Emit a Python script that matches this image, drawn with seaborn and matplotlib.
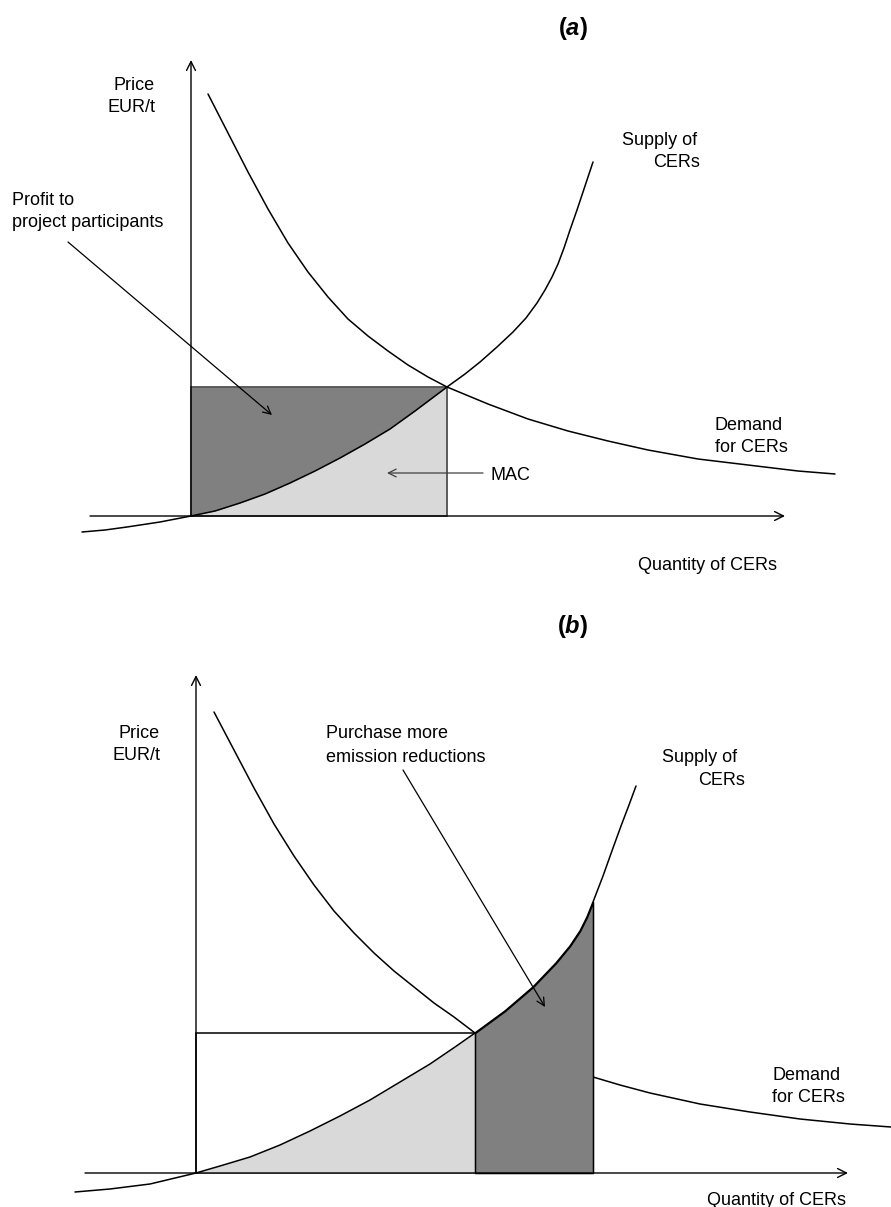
import numpy as np
import pandas as pd
import matplotlib
matplotlib.use("Agg")
import matplotlib.pyplot as plt
import seaborn as sns
from matplotlib.patches import Rectangle

# ---------------- data (quantity / price measured from each panel's origin) ----------------
# Panel (a)
demand_a_q = [17, 37, 57, 77, 97, 117, 137, 157, 177, 197, 217, 237, 256, 297, 337, 377, 417, 457, 507, 557, 607, 644]
demand_a_p = [422, 383, 344, 307, 273, 244, 219, 197, 180, 165, 151, 139, 129, 112, 97, 85, 75, 66, 57, 51, 45, 42]
supply_a_q = [-109, -86, -64, -31, 0, 24, 49, 74, 99, 124, 149, 174, 199, 224, 256, 274, 289, 306, 322, 335, 346, 354, 361, 367, 373, 379, 386, 394, 402]
supply_a_p = [-16, -14, -11, -6, 0, 5, 13, 22, 33, 45, 58, 72, 87, 105, 129, 142, 154, 169, 184, 198, 213, 226, 239, 252, 268, 286, 306, 330, 354]
eq_a_q, eq_a_p = 256, 129

# Panel (b)
demand_b_q = [18, 38, 58, 78, 98, 118, 138, 158, 178, 198, 218, 238, 258, 279, 309, 339, 369, 397, 424, 454, 504, 554, 604, 654, 695]
demand_b_p = [461, 423, 385, 349, 317, 288, 262, 240, 220, 202, 186, 170, 156, 140, 125, 114, 104, 96, 88, 80, 69, 61, 54, 49, 46]
supply_b_q = [-121, -86, -46, 0, 24, 54, 84, 114, 144, 174, 204, 234, 259, 279, 309, 337, 360, 374, 384, 391, 397, 407, 417, 425, 433, 440]
supply_b_p = [-19, -16, -11, 0, 7, 16, 28, 42, 57, 73, 91, 109, 126, 140, 162, 186, 210, 227, 242, 256, 271, 297, 325, 347, 368, 387]
eq_b_q, eq_b_p = 279, 140
max_b_q = 397

DARK = "#808080"
LIGHT = "#d9d9d9"
FS = 13

sns.set_theme(style="white")
plt.rcParams["font.family"] = ["Liberation Sans", "DejaVu Sans"]
plt.rcParams["text.color"] = "black"
plt.rcParams["mathtext.fontset"] = "custom"
plt.rcParams["mathtext.rm"] = "Liberation Sans"
plt.rcParams["mathtext.bf"] = "Liberation Sans:bold"
plt.rcParams["mathtext.it"] = "Liberation Sans:italic:bold"

W, H = 891, 1207
fig = plt.figure(figsize=(W / 100, H / 100), dpi=100)
fig.patch.set_facecolor("white")

# panel (a): pixel rows 0..600, origin at (191, 516)
ax_a = fig.add_axes([0, 1 - 600 / H, 1, 600 / H])
# panel (b): pixel rows 600..1207, origin at (196, 1173)
ax_b = fig.add_axes([0, 0, 1, 607 / H])


def axis_arrow(ax, start, end):
    ax.annotate("", xy=end, xytext=start,
                arrowprops=dict(arrowstyle="->", color="black", lw=1.0,
                                shrinkA=0, shrinkB=0, mutation_scale=16))


def pointer(ax, start, end, color="black"):
    ax.annotate("", xy=end, xytext=start,
                arrowprops=dict(arrowstyle="->", color=color, lw=0.9,
                                shrinkA=0, shrinkB=0, mutation_scale=14))


def curve(ax, q, p, z):
    df = pd.DataFrame({"q": q, "p": p})
    sns.lineplot(data=df, x="q", y="p", ax=ax, color="black", lw=1.1,
                 sort=False, estimator=None, legend=False, zorder=z)


# ---------------- panel (a) ----------------
ax = ax_a
sq = np.array(supply_a_q); sp = np.array(supply_a_p)
mask = (sq >= 0) & (sq <= eq_a_q)
ax.fill_between(sq, 0, sp, where=mask, color=LIGHT, lw=0, zorder=1)
ax.fill_between(sq, sp, eq_a_p, where=mask, color=DARK, lw=0, zorder=1)
ax.add_patch(Rectangle((0, 0), eq_a_q, eq_a_p, fill=False, edgecolor="#505050", lw=1.3, zorder=2))
axis_arrow(ax, (-101, 0), (594, 0))
axis_arrow(ax, (0, 0), (0, 456))
curve(ax, demand_a_q, demand_a_p, 3)
curve(ax, supply_a_q, supply_a_p, 3)

ax.text(382, 488, r"$\mathbf{(}\mathit{a}\mathbf{)}$", ha="center", va="center", fontsize=17)
ax.text(-36, 426, "Price", ha="right", va="baseline", fontsize=FS)
ax.text(-36, 404, "EUR/t", ha="right", va="baseline", fontsize=FS)
ax.text(-179, 311, "Profit to", ha="left", va="baseline", fontsize=FS)
ax.text(-179, 289, "project participants", ha="left", va="baseline", fontsize=FS)
pointer(ax, (-123, 274), (81, 101))
ax.text(431, 371, "Supply of", ha="left", va="baseline", fontsize=FS)
ax.text(462, 349, "CERs", ha="left", va="baseline", fontsize=FS)
ax.text(524, 86, "Demand", ha="left", va="baseline", fontsize=FS)
ax.text(524, 64, "for CERs", ha="left", va="baseline", fontsize=FS)
ax.text(299, 36, "MAC", ha="left", va="baseline", fontsize=FS)
pointer(ax, (292, 43), (196, 43), color="#404040")
ax.text(586, -54, "Quantity of CERs", ha="right", va="baseline", fontsize=FS)

ax.set_xlim(-191, 700)
ax.set_ylim(-84, 516)
ax.set_axis_off()

# ---------------- panel (b) ----------------
ax = ax_b
sq = np.array(supply_b_q); sp = np.array(supply_b_p)
ax.add_patch(Rectangle((0, 0), eq_b_q, eq_b_p, facecolor="white", edgecolor="black", lw=1.1, zorder=1))
m_light = (sq >= 0) & (sq <= eq_b_q)
m_dark = (sq >= eq_b_q) & (sq <= max_b_q)
ax.fill_between(sq, 0, sp, where=m_light, color=LIGHT, lw=0, zorder=2)
curve(ax, demand_b_q, demand_b_p, 2)
ax.fill_between(sq, 0, sp, where=m_dark, facecolor=DARK, edgecolor="black", lw=1.1, zorder=3)
axis_arrow(ax, (-111, 0), (652, 0))
axis_arrow(ax, (0, 0), (0, 498))
curve(ax, supply_b_q, supply_b_p, 4)

ax.text(377, 547, r"$\mathbf{(}\mathit{b}\mathbf{)}$", ha="center", va="center", fontsize=17)
ax.text(-36, 435, "Price", ha="right", va="baseline", fontsize=FS)
ax.text(-36, 413, "EUR/t", ha="right", va="baseline", fontsize=FS)
ax.text(130, 435, "Purchase more", ha="left", va="baseline", fontsize=FS)
ax.text(130, 411, "emission reductions", ha="left", va="baseline", fontsize=FS)
pointer(ax, (207, 403), (349, 166))
ax.text(466, 411, "Supply of", ha="left", va="baseline", fontsize=FS)
ax.text(502, 388, "CERs", ha="left", va="baseline", fontsize=FS)
ax.text(576, 93, "Demand", ha="left", va="baseline", fontsize=FS)
ax.text(576, 71, "for CERs", ha="left", va="baseline", fontsize=FS)
ax.text(650, -32, "Quantity of CERs", ha="right", va="baseline", fontsize=FS)

ax.set_xlim(-196, 695)
ax.set_ylim(-34, 573)
ax.set_axis_off()

fig.savefig("out.png", dpi=100, facecolor="white")
